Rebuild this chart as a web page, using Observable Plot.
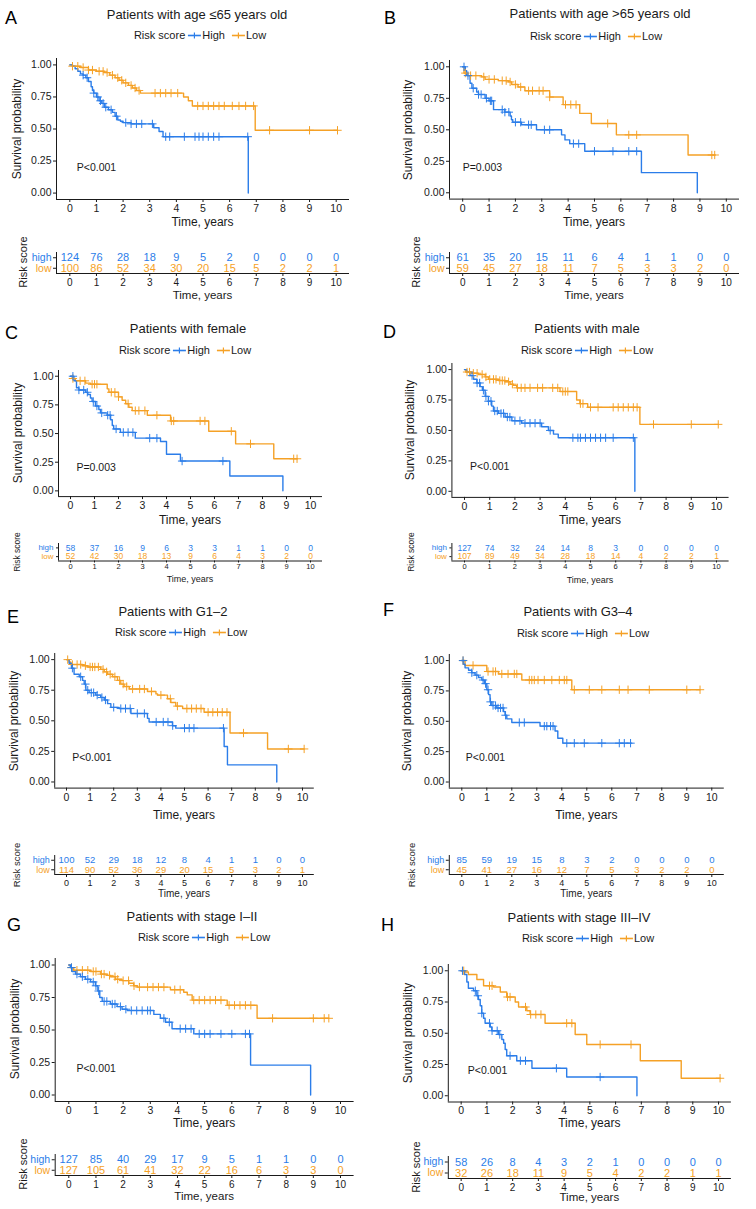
<!DOCTYPE html>
<html><head><meta charset="utf-8">
<script src="https://cdn.jsdelivr.net/npm/d3@7"></script>
<script src="https://cdn.jsdelivr.net/npm/@observablehq/plot@0.6"></script>
<style>
body{margin:0;background:#fff;}
#root{position:relative;width:756px;height:1209px;overflow:hidden;font-family:"Liberation Sans",Arial,Helvetica,sans-serif;font-weight:400;color:#111;}
.abs{position:absolute;white-space:nowrap;line-height:1;font-weight:400;}
svg{overflow:visible;}
</style></head><body><div id="root"></div>
<script>
// ---------- DATA ----------
const years = [0,1,2,3,4,5,6,7,8,9,10];
const yTicks = [0,0.25,0.5,0.75,1];
const letters = ["A","B","C","D","E","F","G","H"];
const titles = ["Patients with age ≤65 years old","Patients with age >65 years old","Patients with female","Patients with male","Patients with G1–2","Patients with G3–4","Patients with stage I–II","Patients with stage III–IV"];
const pvals = ["P<0.001","P=0.003","P=0.003","P<0.001","P<0.001","P<0.001","P<0.001","P<0.001"];

// A
const aHigh = [[0,1],[0.1,0.99],[0.2,0.97],[0.3,0.95],[0.4,0.93],[0.5,0.92],[0.6,0.9],[0.7,0.87],[0.8,0.83],[0.85,0.8],[0.9,0.78],[1.0,0.75],[1.1,0.72],[1.2,0.7],[1.3,0.67],[1.45,0.65],[1.6,0.63],[1.7,0.6],[1.8,0.57],[1.9,0.56],[2.0,0.55],[2.3,0.54],[3.15,0.51],[3.35,0.48],[3.5,0.44],[6.7,0]];
const aHighCens = [0.5,0.65,0.9,1.05,1.15,1.25,1.35,1.55,1.75,2.1,2.3,2.5,2.7,3.1,3.6,3.75,4.3,4.7,4.85,5.0,5.2,5.4,5.6,6.68];
const aLow = [[0,1],[0.1,0.99],[0.4,0.98],[0.7,0.96],[1.0,0.95],[1.3,0.94],[1.5,0.92],[1.7,0.9],[1.85,0.88],[2.0,0.86],[2.2,0.84],[2.35,0.82],[2.5,0.8],[2.65,0.78],[4.27,0.75],[4.45,0.72],[4.6,0.68],[6.96,0.49],[10.05,0.49]];
const aLowCens = [0.1,0.3,0.5,0.7,0.85,1.1,1.25,1.4,1.6,1.8,1.95,2.1,2.3,2.45,2.6,3.2,3.4,3.6,3.8,4.05,4.8,5.0,5.2,5.4,5.6,5.8,6.1,6.35,6.6,6.9,7.5,9.0,10.05];
const aRiskHigh = [124,76,28,18,9,5,2,0,0,0,0];
const aRiskLow = [100,86,52,34,30,20,15,5,2,2,1];
// B
const bHigh = [[0,1],[0.1,0.97],[0.15,0.93],[0.28,0.87],[0.35,0.83],[0.53,0.8],[0.6,0.78],[0.85,0.75],[1.0,0.73],[1.17,0.66],[1.6,0.64],[1.8,0.61],[1.85,0.58],[1.9,0.56],[2.23,0.54],[2.8,0.5],[3.75,0.46],[3.88,0.42],[4.06,0.39],[4.63,0.33],[6.78,0.16],[8.9,0]];
const bHighCens = [0.05,0.2,0.4,0.6,0.7,0.9,1.05,1.1,1.5,1.6,1.75,2.0,2.2,2.5,2.6,3.1,3.3,4.2,4.4,5.0,5.7,6.3,6.6];
const bLow = [[0,1],[0.05,0.95],[0.2,0.93],[0.72,0.92],[0.85,0.9],[1.35,0.89],[1.73,0.88],[1.86,0.86],[2.1,0.84],[2.36,0.81],[3.3,0.76],[3.81,0.7],[4.44,0.63],[4.88,0.55],[5.83,0.46],[8.55,0.3],[9.56,0.3]];
const bLowCens = [0.1,0.3,0.5,0.8,1.0,1.2,1.5,1.65,1.8,2.0,2.2,2.5,2.65,2.9,3.05,3.3,3.9,4.1,4.3,5.5,6.3,6.6,9.45,9.56];
const bRiskHigh = [61,35,20,15,11,6,4,1,1,0,0];
const bRiskLow = [59,45,27,18,11,7,5,3,3,2,0];
// C
const cHigh = [[0,1],[0.14,0.96],[0.25,0.9],[0.35,0.88],[0.63,0.86],[0.72,0.84],[0.83,0.81],[0.9,0.78],[1.04,0.74],[1.18,0.71],[1.25,0.68],[1.53,0.66],[1.67,0.62],[1.74,0.57],[1.8,0.54],[2.08,0.51],[2.7,0.46],[3.75,0.43],[4.0,0.32],[4.58,0.26],[6.64,0.13],[8.85,0]];
const cHighCens = [0.1,0.35,0.55,0.7,0.95,1.1,1.3,1.55,1.65,1.9,2.2,2.4,2.6,3.3,3.6,4.65,6.35];
const cLow = [[0,1],[0.07,0.98],[0.2,0.96],[0.63,0.94],[0.83,0.93],[1.53,0.89],[1.6,0.86],[2.0,0.82],[2.15,0.79],[2.3,0.76],[2.43,0.73],[2.57,0.7],[3.2,0.66],[4.17,0.61],[5.76,0.52],[6.88,0.41],[8.47,0.28],[9.44,0.28]];
const cLowCens = [0.1,0.4,0.6,0.9,1.0,1.1,1.7,1.85,2.0,2.4,2.7,2.85,3.1,3.6,4.2,4.3,5.4,5.6,6.7,7.5,9.3,9.44];
const cRiskHigh = [58,37,16,9,6,3,3,1,1,0,0];
const cRiskLow = [52,42,30,18,13,9,6,4,3,2,0];
// D
const dHigh = [[0,1],[0.09,0.98],[0.22,0.95],[0.36,0.92],[0.49,0.89],[0.62,0.86],[0.71,0.83],[0.82,0.78],[0.95,0.74],[1.08,0.7],[1.15,0.66],[1.35,0.64],[1.61,0.61],[1.88,0.58],[2.27,0.56],[3.06,0.53],[3.33,0.5],[3.53,0.47],[3.72,0.44],[6.76,0]];
const dHighCens = [0.3,0.5,0.6,0.75,0.85,0.95,1.05,1.2,1.3,1.45,1.55,1.7,1.8,2.0,2.2,2.4,2.6,2.8,3.0,3.4,4.3,4.5,4.6,4.8,5.0,5.2,5.4,5.6,5.9,6.7];
const dLow = [[0,1],[0.05,0.98],[0.29,0.97],[0.55,0.96],[0.82,0.94],[0.95,0.92],[1.35,0.91],[1.61,0.9],[1.81,0.88],[1.94,0.87],[2.07,0.85],[3.79,0.82],[4.45,0.75],[4.58,0.72],[4.89,0.69],[6.96,0.55],[10.07,0.55]];
const dLowCens = [0.1,0.2,0.35,0.5,0.7,0.85,1.0,1.15,1.25,1.4,1.5,1.6,1.75,1.9,2.1,2.25,2.4,2.6,2.9,3.1,3.5,3.7,3.9,4.0,4.1,4.6,4.7,5.0,5.3,5.9,6.1,6.3,6.5,6.7,6.85,7.5,9.0,10.07];
const dRiskHigh = [127,74,32,24,14,8,3,0,0,0,0];
const dRiskLow = [107,89,49,34,28,18,14,4,2,2,1];
// E
const eHigh = [[0,1],[0.11,0.97],[0.21,0.93],[0.32,0.88],[0.54,0.86],[0.68,0.83],[0.75,0.8],[0.82,0.75],[0.96,0.73],[1.24,0.71],[1.45,0.69],[1.6,0.67],[1.74,0.64],[1.88,0.61],[2.23,0.6],[2.73,0.56],[3.43,0.52],[3.5,0.49],[4.49,0.46],[4.63,0.44],[6.68,0.29],[6.82,0.14],[8.91,0]];
const eHighCens = [0.25,0.6,0.8,0.9,1.05,1.15,1.3,1.5,1.65,2.0,2.3,2.5,2.7,3.0,3.3,3.8,4.1,4.3,4.5,5.0,5.2,5.4,6.65];
const eLow = [[0,1],[0.11,0.98],[0.18,0.96],[0.68,0.95],[0.89,0.94],[1.45,0.92],[1.6,0.9],[1.74,0.88],[1.95,0.86],[2.16,0.83],[2.3,0.8],[2.44,0.78],[2.66,0.76],[3.43,0.74],[3.79,0.72],[3.86,0.71],[4.28,0.68],[4.42,0.65],[4.63,0.62],[4.92,0.6],[5.83,0.57],[6.93,0.4],[8.52,0.27],[10.07,0.27]];
const eLowCens = [0.05,0.25,0.45,0.6,0.8,1.0,1.1,1.2,1.35,1.55,1.7,1.85,2.05,2.25,2.4,2.55,2.8,3.1,3.3,3.6,4.0,4.4,4.7,5.1,5.3,5.5,5.7,6.0,6.2,6.4,6.6,6.8,7.5,9.4,10.07];
const eRiskHigh = [100,52,29,18,12,8,4,1,1,0,0];
const eRiskLow = [114,90,52,36,29,20,15,5,3,2,1];
// F
const fHigh = [[0,1],[0.07,0.97],[0.13,0.94],[0.27,0.92],[0.4,0.9],[0.53,0.88],[0.67,0.86],[0.8,0.84],[0.9,0.81],[1.0,0.76],[1.07,0.72],[1.13,0.66],[1.2,0.63],[1.4,0.61],[1.67,0.58],[1.73,0.55],[1.8,0.52],[2.0,0.49],[3.13,0.46],[3.73,0.42],[3.84,0.36],[4.04,0.32],[6.8,0.32]];
const fHighCens = [0.05,0.4,0.6,0.85,0.95,1.05,1.15,1.25,1.35,1.45,1.55,1.65,1.75,2.3,2.5,3.3,3.4,3.55,3.65,4.2,4.5,4.9,5.6,6.3,6.5,6.75];
const fLow = [[0,1],[0.13,0.96],[1.0,0.91],[1.47,0.89],[2.4,0.84],[4.4,0.76],[9.53,0.76]];
const fLowCens = [0.05,0.45,1.05,1.25,1.35,1.6,1.85,2.1,2.2,2.7,2.8,2.9,3.05,3.3,3.6,3.9,4.1,4.2,4.5,5.1,5.6,6.3,6.65,7.5,9.0,9.53];
const fRiskHigh = [85,59,19,15,8,3,2,0,0,0,0];
const fRiskLow = [45,41,27,16,12,7,5,3,2,2,0];
// G
const gHigh = [[0,1],[0.06,0.98],[0.12,0.95],[0.25,0.93],[0.43,0.91],[0.61,0.89],[0.8,0.87],[0.98,0.84],[1.07,0.8],[1.14,0.75],[1.23,0.72],[1.53,0.7],[1.78,0.68],[1.96,0.66],[2.15,0.65],[3.13,0.62],[3.37,0.59],[3.56,0.56],[3.8,0.51],[4.6,0.47],[6.69,0.23],[8.9,0]];
const gHighCens = [0.1,0.3,0.5,0.7,0.9,1.0,1.1,1.3,1.4,1.6,1.7,1.9,2.1,2.3,2.5,2.7,2.9,3.0,3.5,3.7,4.1,4.3,4.5,4.8,5.0,5.2,5.6,6.0,6.5,6.65];
const gLow = [[0,1],[0.06,0.98],[0.18,0.96],[0.8,0.95],[1.17,0.93],[1.41,0.92],[1.53,0.91],[1.72,0.89],[1.96,0.88],[2.21,0.86],[2.39,0.84],[2.52,0.83],[3.74,0.81],[4.23,0.79],[4.36,0.77],[4.54,0.73],[5.83,0.69],[6.93,0.59],[9.57,0.59]];
const gLowCens = [0.1,0.3,0.5,0.7,0.9,1.0,1.2,1.3,1.5,1.7,1.8,2.0,2.2,2.4,2.6,2.9,3.1,3.3,3.5,3.9,4.1,4.6,4.8,5.0,5.2,5.4,5.6,5.9,6.1,6.3,6.5,6.7,7.5,9.0,9.4,9.57];
const gRiskHigh = [127,85,40,29,17,9,5,1,1,0,0];
const gRiskLow = [127,105,61,41,32,22,16,6,3,3,0];
// H
const hHigh = [[0,1],[0.13,0.97],[0.22,0.91],[0.28,0.86],[0.48,0.84],[0.61,0.8],[0.67,0.77],[0.74,0.72],[0.8,0.66],[0.87,0.62],[0.93,0.58],[1.13,0.55],[1.19,0.52],[1.45,0.49],[1.58,0.45],[1.65,0.42],[1.71,0.37],[1.77,0.32],[2.16,0.28],[2.75,0.22],[4.1,0.15],[6.83,0]];
const hHighCens = [0.05,0.55,0.65,0.8,1.1,1.2,1.4,1.5,1.9,2.3,2.5,3.7,5.4];
const hLow = [[0,1],[0.16,0.99],[0.28,0.97],[0.61,0.93],[0.87,0.88],[1.26,0.87],[1.52,0.83],[1.77,0.79],[2.1,0.75],[2.23,0.71],[2.55,0.68],[2.68,0.65],[3.26,0.58],[4.43,0.49],[4.88,0.41],[6.96,0.28],[8.55,0.14],[10.06,0.14]];
const hLowCens = [0.1,1.1,1.2,1.8,1.9,2.5,2.7,2.9,3.1,4.1,4.3,5.4,6.6,10.06];
const hRiskHigh = [58,26,8,4,3,2,1,0,0,0,0];
const hRiskLow = [32,26,18,11,9,5,4,2,2,1,1];

// ---------- LAYOUT (page pixels, font sizes) ----------
const layout = [
 {col:0,   xl:56,    xr:349,   yt:58,    yb:199,    lx:5,   ly:18,  tx:197, ty:14,  gx:200, gy:35,  ylx:17,  xly:222,  tt:251.5, tb:272.5, fs:11,  tfs:10,  tks:3, tkp:2, hfs:10.5, rsx:23,  rsf:11,  txly:296,  px:0.26},
 {col:378, xl:449,   xr:739,   yt:60.4,  yb:199,    lx:384, ly:18,  tx:600, ty:13,  gx:596, gy:36,  ylx:408, xly:222,  tt:251.5, tb:272.5, fs:11,  tfs:10,  tks:3, tkp:2, hfs:10.5, rsx:416, rsf:11,  txly:296,  px:0.0},
 {col:0,   xl:58,    xr:322,   yt:370.3, yb:496.4,  lx:5,   ly:333, tx:188, ty:328, gx:185, gy:350, ylx:18,  xly:520,  tt:543,   tb:560.5, fs:8.5, tfs:7.5, tks:2, tkp:1, hfs:8,    rsx:17,  rsf:8.5, txly:578.5,px:0.25},
 {col:378, xl:451.4, xr:728.6, yt:362.9, yb:496.8,  lx:383, ly:332, tx:587, ty:328, gx:587, gy:350, ylx:410, xly:520,  tt:543,   tb:560.5, fs:8.5, tfs:7.5, tks:2, tkp:1, hfs:8,    rsx:411, rsf:8.5, txly:579.5,px:0.22},
 {col:0,   xl:54.2,  xr:313.8, yt:653.2, yb:787.8,  lx:7,   ly:617, tx:173, ty:611, gx:181, gy:632, ylx:14,  xly:815,  tt:855,   tb:874,   fs:9.5, tfs:9,   tks:3, tkp:2, hfs:9,    rsx:17,  rsf:9.5, txly:894,  px:0.24},
 {col:378, xl:448.8, xr:723.8, yt:654.2, yb:787.8,  lx:383, ly:610, tx:578, ty:611, gx:583, gy:633, ylx:407, xly:815,  tt:855,   tb:874,   fs:9.5, tfs:9,   tks:3, tkp:2, hfs:9,    rsx:412, rsf:9.5, txly:894,  px:0.16},
 {col:0,   xl:54.7,  xr:353.6, yt:957.8, yb:1100.8, lx:7,   ly:925, tx:192, ty:916, gx:204, gy:937, ylx:15,  xly:1123, tt:1153.5,tb:1174.5,fs:11,  tfs:10,  tks:3, tkp:2, hfs:10.5, rsx:23,  rsf:11,  txly:1197, px:0.28},
 {col:378, xl:447.8, xr:730.9, yt:963.8, yb:1101.3, lx:381, ly:925, tx:579, ty:917, gx:588, gy:938, ylx:408, xly:1123, tt:1155.5,tb:1177.5,fs:11,  tfs:10,  tks:3, tkp:2, hfs:10.5, rsx:416, rsf:11,  txly:1198, px:0.26}
];

const curvesHigh = [aHigh,bHigh,cHigh,dHigh,eHigh,fHigh,gHigh,hHigh];
const censHigh = [aHighCens,bHighCens,cHighCens,dHighCens,eHighCens,fHighCens,gHighCens,hHighCens];
const curvesLow = [aLow,bLow,cLow,dLow,eLow,fLow,gLow,hLow];
const censLow = [aLowCens,bLowCens,cLowCens,dLowCens,eLowCens,fLowCens,gLowCens,hLowCens];
const risksHigh = [aRiskHigh,bRiskHigh,cRiskHigh,dRiskHigh,eRiskHigh,fRiskHigh,gRiskHigh,hRiskHigh];
const risksLow = [aRiskLow,bRiskLow,cRiskLow,dRiskLow,eRiskLow,fRiskLow,gRiskLow,hRiskLow];

// ---------- RENDER ----------
const root = document.getElementById("root");
const FONT = '"Liberation Sans", Arial, Helvetica, sans-serif';
const HIGH = "#2b7de9", LOW = "#f5a126", INK = "#1a1a1a";

function valueAt(steps, t) { let s = steps[0][1]; for (const [tt, ss] of steps) { if (tt <= t) s = ss; else break; } return s; }
function censorPts(steps, times) { return times.map(t => ({t, s: valueAt(steps, t)})); }

function txt(s, x, y, {size = 12, anchor = "middle", rotate = false, color = "#1a1a1a"} = {}) {
  const d = document.createElement("div");
  d.className = "abs";
  d.textContent = s;
  d.style.left = x + "px"; d.style.top = y + "px";
  d.style.fontSize = size + "px"; d.style.color = color;
  const tx = anchor === "middle" ? "-50%" : anchor === "end" ? "-100%" : "0";
  d.style.transform = `translate(${tx},-50%)` + (rotate ? " rotate(-90deg)" : "");
  root.appendChild(d);
}
function symbol(c) {
  return `<svg width="13" height="8" style="display:block;overflow:visible"><line x1="0" y1="4" x2="13" y2="4" stroke="${c}" stroke-width="1.6"/><line x1="6.5" y1="1" x2="6.5" y2="7" stroke="${c}" stroke-width="1.2"/></svg>`;
}
function legend(x, y) {
  const d = document.createElement("div");
  d.className = "abs";
  d.style.left = x + "px"; d.style.top = y + "px";
  d.style.fontSize = "11px"; d.style.color = "#1a1a1a";
  d.style.display = "flex"; d.style.alignItems = "center";
  d.style.transform = "translate(-50%,-50%)";
  d.innerHTML = `<span>Risk score</span><span style="margin-left:3px">${symbol(HIGH)}</span><span style="margin-left:1px">High</span><span style="margin-left:7px">${symbol(LOW)}</span><span style="margin-left:1px">Low</span>`;
  root.appendChild(d);
}
function place(svg, left, top) {
  svg.style.position = "absolute"; svg.style.left = left + "px"; svg.style.top = top + "px";
  root.appendChild(svg);
}

layout.forEach((L, i) => {
  txt(letters[i], L.lx, L.ly, {size: 18, anchor: "start", color: "#000"});
  txt(titles[i], L.tx, L.ty, {size: 13});
  legend(L.gx, L.gy);
  txt("Survival probability", L.ylx, (L.yt + L.yb) / 2, {size: 12, rotate: true});
  const cx = (L.xl + L.xr) / 2;
  txt("Time, years", cx, L.xly, {size: 12});
  txt("Risk score", L.rsx, (L.tt + L.tb) / 2, {size: L.rsf, rotate: true});
  txt("Time, years", cx, L.txly, {size: L.rsf + 0.5});

  // survival curves
  const top = L.yt - 8, bottom = L.yb + 22;
  const curve = Plot.plot({
    width: 378, height: bottom - top,
    marginLeft: L.xl - L.col, marginRight: L.col + 378 - L.xr,
    marginTop: L.yt - top, marginBottom: bottom - L.yb,
    style: {fontFamily: FONT, fontSize: "10.5px", color: INK, background: "transparent", overflow: "visible"},
    x: {domain: [-0.5, 10.5], ticks: years, tickSize: 3, tickPadding: 2, label: null, tickFormat: d3.format("d")},
    y: {domain: [-0.05, 1.05], ticks: yTicks, tickSize: 3, tickPadding: 2, label: null, tickFormat: d3.format(".2f")},
    marks: [
      Plot.ruleX([-0.5], {stroke: INK, strokeWidth: 1}),
      Plot.ruleY([-0.05], {stroke: INK, strokeWidth: 1}),
      Plot.line(curvesLow[i], {x: d => d[0], y: d => d[1], curve: "step-after", stroke: LOW, strokeWidth: 1.4}),
      Plot.line(curvesHigh[i], {x: d => d[0], y: d => d[1], curve: "step-after", stroke: HIGH, strokeWidth: 1.4}),
      Plot.dot(censorPts(curvesLow[i], censLow[i]), {x: "t", y: "s", symbol: "plus", r: 2.8, stroke: LOW, fill: "none", strokeWidth: 1}),
      Plot.dot(censorPts(curvesHigh[i], censHigh[i]), {x: "t", y: "s", symbol: "plus", r: 2.8, stroke: HIGH, fill: "none", strokeWidth: 1}),
      Plot.text([pvals[i]], {x: () => L.px, y: () => 0.2, text: d => d, textAnchor: "start", fontSize: 10.5, fill: INK})
    ]
  });
  place(curve, L.col, top);

  // number-at-risk table
  const tTop = L.tt - 4, tBottom = L.tb + 14;
  const table = Plot.plot({
    width: 378, height: tBottom - tTop,
    marginLeft: L.xl - L.col, marginRight: L.col + 378 - L.xr,
    marginTop: L.tt - tTop, marginBottom: tBottom - L.tb,
    style: {fontFamily: FONT, fontSize: L.tfs + "px", color: INK, background: "transparent", overflow: "visible"},
    x: {domain: [-0.5, 10.5], ticks: years, tickSize: L.tks, tickPadding: L.tkp, label: null, tickFormat: d3.format("d")},
    y: {domain: [0.5, 2.5], ticks: [1, 2], tickSize: L.tks, tickFormat: () => "", label: null},
    marks: [
      Plot.ruleX([-0.5], {stroke: INK}),
      Plot.ruleY([0.5], {stroke: INK}),
      Plot.text(years, {x: d => d, y: () => 2, text: (d, j) => risksHigh[i][j], fill: HIGH, fontSize: L.fs}),
      Plot.text(years, {x: d => d, y: () => 1, text: (d, j) => risksLow[i][j], fill: LOW, fontSize: L.fs}),
      Plot.text(["high"], {x: () => -0.5, y: () => 2, dx: -5, text: d => d, textAnchor: "end", fill: HIGH, fontSize: L.hfs}),
      Plot.text(["low"], {x: () => -0.5, y: () => 1, dx: -5, text: d => d, textAnchor: "end", fill: LOW, fontSize: L.hfs})
    ]
  });
  place(table, L.col, tTop);
});
</script>
</body></html>
